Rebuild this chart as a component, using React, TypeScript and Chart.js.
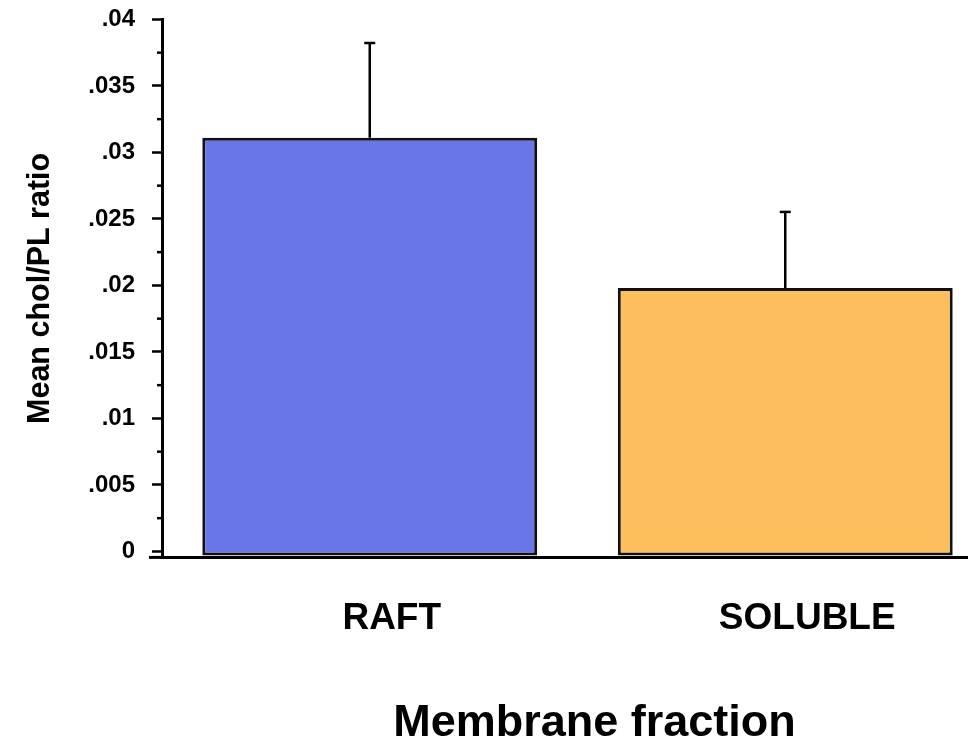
import React, { useEffect, useRef } from "react";
import { Chart, registerables } from "chart.js";

Chart.register(...registerables);

const categories = ["RAFT", "SOLUBLE"];
const meanValues = [0.0311, 0.0198];
const errorValues = [0.0072, 0.0058];
const barColors = ["#6876E8", "#FDBE5D"];
const yTickValues = [0, 0.005, 0.01, 0.015, 0.02, 0.025, 0.03, 0.035, 0.04];
const yTickLabels = ["0", ".005", ".01", ".015", ".02", ".025", ".03", ".035", ".04"];
const yMinorTickValues = [0.0025, 0.0075, 0.0125, 0.0175, 0.0225, 0.0275, 0.0325, 0.0375];
const xTitle = "Membrane fraction";
const yTitle = "Mean chol/PL ratio";

const FONT = "'Liberation Sans', Arial, Helvetica, sans-serif";

const extrasPlugin = {
  id: "extras",
  afterLayout(chart: any) {
    // shift the x title centre a little to the right (beyond the visible edge)
    const s = chart.scales.x;
    s.right += 34;
    s.width += 34;
  },
  afterDatasetsDraw(chart: any) {
    const ctx = chart.ctx;
    const y = chart.scales.y;
    const area = chart.chartArea;
    const meta = chart.getDatasetMeta(0);
    ctx.save();
    ctx.strokeStyle = "#000";
    // error bars
    meta.data.forEach((bar: any, i: number) => {
      const x = bar.x;
      const yBase = y.getPixelForValue(meanValues[i]);
      const yTop = y.getPixelForValue(meanValues[i] + errorValues[i]);
      ctx.lineWidth = 2.5;
      ctx.beginPath();
      ctx.moveTo(x, yBase);
      ctx.lineTo(x, yTop);
      ctx.stroke();
      ctx.beginPath();
      ctx.moveTo(x - 5.5, yTop + 1);
      ctx.lineTo(x + 5.5, yTop + 1);
      ctx.stroke();
    });
    // minor ticks
    ctx.lineWidth = 2.5;
    yMinorTickValues.forEach((v) => {
      const py = y.getPixelForValue(v);
      ctx.beginPath();
      ctx.moveTo(area.left - 5, py);
      ctx.lineTo(area.left, py);
      ctx.stroke();
    });
    // x axis extension to the left
    ctx.lineWidth = 3;
    ctx.beginPath();
    ctx.moveTo(area.left - 13, area.bottom);
    ctx.lineTo(area.left, area.bottom);
    ctx.stroke();
    ctx.restore();
  },
};

export default function App() {
  const ref = useRef<HTMLCanvasElement | null>(null);

  useEffect(() => {
    if (!ref.current) return;
    const chart = new Chart(ref.current, {
      type: "bar",
      data: {
        labels: categories,
        datasets: [
          {
            data: meanValues,
            backgroundColor: barColors,
            borderColor: "#111",
            borderWidth: 3,
            borderSkipped: false,
            categoryPercentage: 1,
            barPercentage: 0.806,
            base: -0.0003,
          },
        ],
      },
      options: {
        animation: false,
        responsive: true,
        maintainAspectRatio: false,
        layout: { padding: { top: 19, left: 0, right: 0, bottom: 0 } },
        plugins: {
          legend: { display: false },
          tooltip: { enabled: false },
        },
        scales: {
          x: {
            type: "category",
            grid: { display: true, drawOnChartArea: false, drawTicks: false },
            border: { display: true, color: "#000", width: 3 },
            ticks: {
              color: "#000",
              padding: 39,
              labelOffset: 22,
              font: { family: FONT, size: 37, weight: "bold" },
            },
            title: {
              display: true,
              text: xTitle,
              color: "#000",
              font: { family: FONT, size: 45, weight: "bold", lineHeight: 0.8 },
              padding: { top: 0, bottom: 0 },
            },
            afterFit: (scale: any) => {
              scale.height = 184.6;
            },
          },
          y: {
            type: "linear",
            min: -0.00045,
            max: 0.04,
            grid: {
              display: true,
              drawOnChartArea: false,
              drawTicks: true,
              tickLength: 10,
              tickWidth: 2.5,
              tickColor: "#000",
            },
            border: { display: true, color: "#000", width: 3 },
            afterBuildTicks: (scale: any) => {
              scale.ticks = yTickValues.map((v) => ({ value: v }));
            },
            ticks: {
              color: "#000",
              padding: 17,
              font: { family: FONT, size: 24, weight: "bold", lineHeight: 0.2 },
              callback: (value: any) => {
                const idx = yTickValues.findIndex((v) => Math.abs(v - Number(value)) < 1e-9);
                return idx >= 0 ? yTickLabels[idx] : "";
              },
            },
            title: {
              display: true,
              text: yTitle,
              color: "#000",
              font: { family: FONT, size: 30.5, weight: "bold" },
              padding: { top: 22, bottom: 0 },
            },
            afterFit: (scale: any) => {
              scale.width = 162;
            },
          },
        },
      },
      plugins: [extrasPlugin],
    });
    return () => chart.destroy();
  }, []);

  return (
    <div
      style={{
        position: "fixed",
        left: 0,
        top: 0,
        width: 968,
        height: 742,
        overflow: "hidden",
        background: "#fff",
      }}
    >
      <div style={{ position: "relative", width: 993, height: 742 }}>
        <canvas ref={ref} />
      </div>
    </div>
  );
}
